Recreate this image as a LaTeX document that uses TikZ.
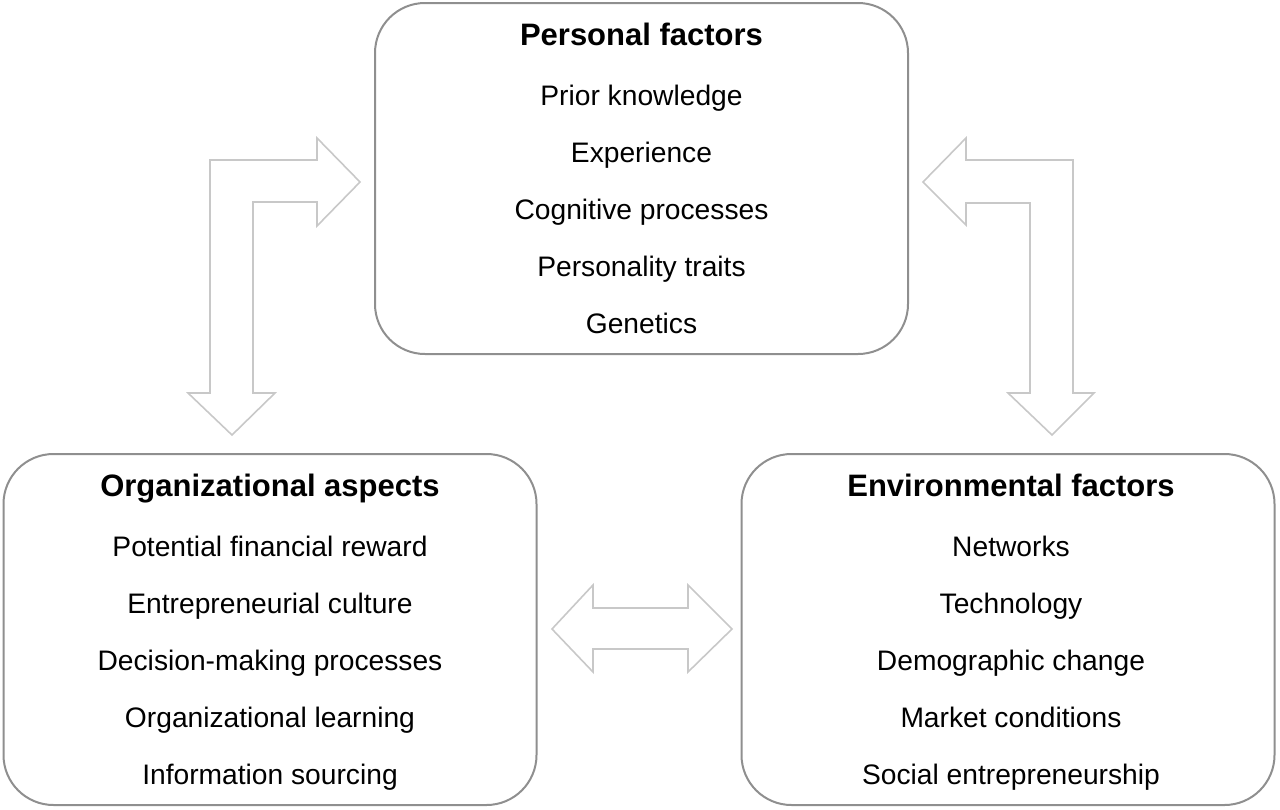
\documentclass[tikz,border=0pt]{standalone}
\usepackage{fontspec}
\setmainfont{Liberation Sans}
\definecolor{boxline}{HTML}{8F8F8F}
\definecolor{arrowline}{HTML}{C8C8C8}

\begin{document}
\begin{tikzpicture}[
		x=0.5pt, y=-0.5pt,
		factorbox/.style={draw=boxline, line width=1pt, rounded corners=25pt,
				minimum width=266.5pt, minimum height=175.5pt},
		factortext/.style={align=center, font=\fontsize{14.1}{28.5}\selectfont},
		blockarrow/.style={draw=arrowline, line width=0.8pt, line join=miter},
	]
	\useasboundingbox (0,0) rectangle (1280,809);
	% boxes
	\node[factorbox] (pers) at (641.5,178.5) {};
	\node[factorbox] (org) at (270,629.5) {};
	\node[factorbox] (env) at (1008,629.5) {};
	% contents
	\node[factortext] (perstext) at (pers.center) {{\fontsize{15.5}{28.5}\selectfont\bfseries Personal factors}\\[1.5pt]
			Prior knowledge\\ Experience\\ Cognitive processes\\ Personality traits\\ Genetics};
	\node[factortext] (orgtext) at ([yshift=-1.5pt]org.center) {{\fontsize{15.5}{28.5}\selectfont\bfseries Organizational aspects}\\[1.5pt]
			Potential financial reward\\ Entrepreneurial culture\\ Decision-making processes\\ Organizational learning\\ Information sourcing};
	\node[factortext] (envtext) at ([xshift=1.5pt, yshift=-1.5pt]env.center) {{\fontsize{15.5}{28.5}\selectfont\bfseries Environmental factors}\\[1.5pt]
			Networks\\ Technology\\ Demographic change\\ Market conditions\\ Social entrepreneurship};
	% block arrows
	\draw[blockarrow] (210,393) -- (210,160) -- (317,160) -- (317,138) -- (360,182) -- (317,226)
		-- (317,202) -- (253,202) -- (253,393) -- (275,393) -- (232,435) -- (188,393) -- cycle;
	\draw[blockarrow] (1073,393) -- (1073,160) -- (966,160) -- (966,138) -- (923,182) -- (966,225)
		-- (966,203) -- (1030,203) -- (1030,393) -- (1008,393) -- (1052,435) -- (1094,393) -- cycle;
	\draw[blockarrow] (552,629) -- (593,585) -- (593,608) -- (688,608) -- (688,585) -- (732,629)
		-- (688,672) -- (688,649) -- (593,649) -- (593,672) -- cycle;
\end{tikzpicture}
\end{document}
